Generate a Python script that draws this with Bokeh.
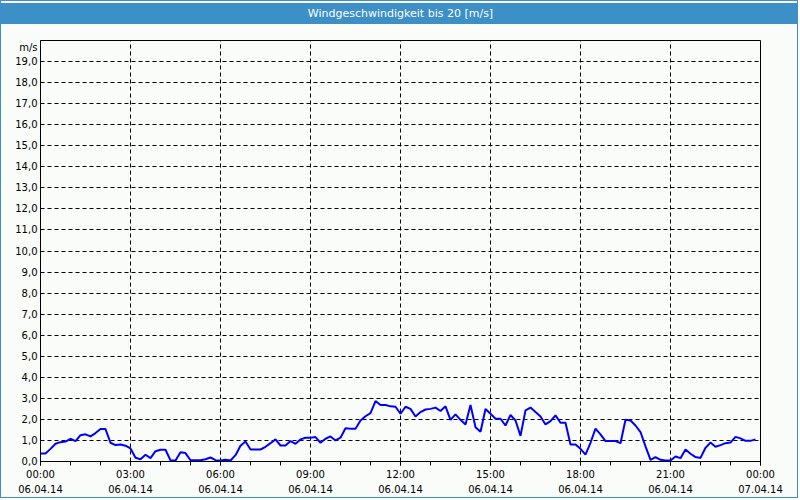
from bokeh.plotting import figure
from bokeh.models import FixedTicker, Range1d, Title
from bokeh.embed import file_html
from bokeh.resources import INLINE

# ---- data: wind speed (m/s), 10-minute values on 06.04.14 ----
times = [f"{h:02d}:{m:02d}" for h in range(24) for m in (0, 10, 20, 30, 40, 50)]
speed = [
    0.38, 0.38, 0.60, 0.84, 0.92, 0.95,
    1.08, 0.97, 1.25, 1.29, 1.19, 1.35,
    1.54, 1.54, 0.89, 0.78, 0.81, 0.75,
    0.62, 0.18, 0.11, 0.32, 0.16, 0.49,
    0.56, 0.56, 0.05, 0.05, 0.44, 0.40,
    0.06, 0.06, 0.06, 0.11, 0.19, 0.06,
    0.05, 0.08, 0.05, 0.30, 0.75, 0.95,
    0.57, 0.57, 0.57, 0.70, 0.87, 1.05,
    0.76, 0.76, 0.97, 0.84, 1.05, 1.13,
    1.13, 1.16, 0.89, 1.08, 1.19, 1.00,
    1.13, 1.58, 1.56, 1.56, 1.95, 2.15,
    2.30, 2.87, 2.68, 2.68, 2.62, 2.60,
    2.27, 2.60, 2.50, 2.14, 2.35, 2.47,
    2.50, 2.56, 2.40, 2.62, 1.98, 2.24,
    1.98, 1.76, 2.68, 1.63, 1.41, 2.49,
    2.27, 2.03, 2.03, 1.71, 2.21, 1.95,
    1.22, 2.43, 2.56, 2.35, 2.14, 1.76,
    1.92, 2.19, 1.84, 1.84, 0.81, 0.81,
    0.60, 0.33, 0.89, 1.56, 1.29, 0.97,
    0.97, 0.97, 0.87, 1.98, 1.95, 1.71,
    1.40, 0.72, 0.08, 0.21, 0.08, 0.05,
    0.05, 0.24, 0.16, 0.57, 0.37, 0.21,
    0.17, 0.65, 0.90, 0.70, 0.78, 0.87,
    0.90, 1.17, 1.10, 0.98, 0.98, 1.05,
]
x_ticks = [0, 3, 6, 9, 12, 15, 18, 21, 24]
x_tick_labels = ["00:00\n06.04.14", "03:00\n06.04.14", "06:00\n06.04.14",
                 "09:00\n06.04.14", "12:00\n06.04.14", "15:00\n06.04.14",
                 "18:00\n06.04.14", "21:00\n06.04.14", "00:00\n07.04.14"]
y_ticks = list(range(20))
y_tick_labels = [f"{v},0" for v in y_ticks]
title_text = "Windgeschwindigkeit bis 20 [m/s]"
unit_text = "m/s"

hours = [int(t[:2]) + int(t[3:]) / 60 for t in times]

# layout / style constants
UNIT_POS = 19.68          # where the unit label sits on the y axis
BG = "#f9fcf9"
BLUE = "#3c8fc7"
FONT = "DejaVu Sans"

p = figure(width=798, height=498, output_backend="svg", toolbar_location=None,
           x_range=Range1d(0, 24), y_range=Range1d(0, 20),
           background_fill_color=BG, border_fill_color=BG,
           min_border_left=39, min_border_right=39, min_border_top=39,
           min_border_bottom=38)
p.styles = {"border": f"1px solid {BLUE}"}

# invisible spacer (nearest the frame) and the title bar above it
spacer = Title(text="\u200b", text_font=FONT, text_font_size="11px",
               text_color=BG, standoff=0)
p.add_layout(spacer, "above")
header = Title(text=title_text, align="center", vertical_align="middle",
               text_color="white", text_font=FONT, text_font_size="11px",
               text_font_style="normal", background_fill_color=BLUE,
               padding=(500, 4), offset=0, standoff=1)
p.add_layout(header, "above")

p.line(hours, speed, line_color="#0000ff", line_width=2)

p.outline_line_color = "black"
p.outline_line_width = 1

p.xaxis.ticker = FixedTicker(ticks=x_ticks, minor_ticks=list(range(25)))
p.xaxis.major_label_overrides = dict(zip(x_ticks, x_tick_labels))
p.yaxis.ticker = FixedTicker(ticks=y_ticks + [UNIT_POS])
p.yaxis.major_label_overrides = {**dict(zip(y_ticks, y_tick_labels)), UNIT_POS: unit_text}

for ax in (p.xaxis[0], p.yaxis[0]):
    ax.axis_line_color = "black"
    ax.major_label_text_font = FONT
    ax.major_label_text_font_size = "10px"
    ax.major_label_text_color = "black"
    ax.major_tick_line_color = "black"
    ax.minor_tick_line_color = "black"
    ax.major_tick_in = 0
    ax.minor_tick_in = 0

p.xaxis.major_tick_out = 4
p.xaxis.minor_tick_out = 4
p.xaxis.major_label_standoff = 3
p.xaxis.major_label_text_line_height = 1.45
p.yaxis.major_tick_out = 0
p.yaxis.minor_tick_out = 0
p.yaxis.major_label_standoff = 3

p.xgrid.ticker = FixedTicker(ticks=x_ticks[1:-1])
p.ygrid.ticker = FixedTicker(ticks=y_ticks[1:])
for g in (p.xgrid[0], p.ygrid[0]):
    g.grid_line_color = "black"
    g.grid_line_dash = "4 3"
    g.grid_line_width = 1

open("out.html", "w").write(file_html(p, INLINE))
